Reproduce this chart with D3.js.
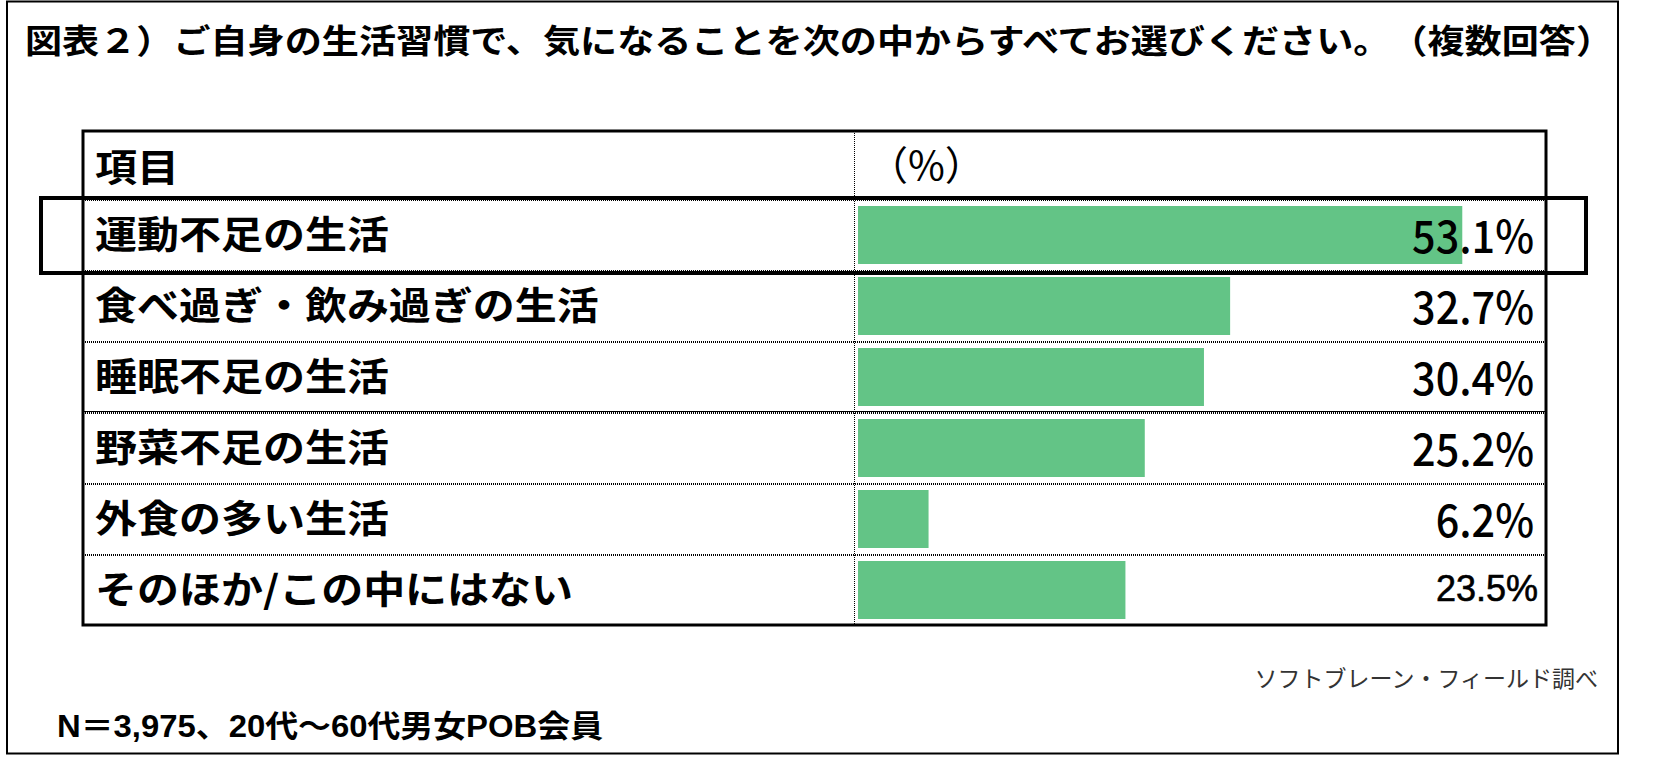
<!DOCTYPE html>
<html>
<head>
<meta charset="utf-8">
<script src="https://cdn.jsdelivr.net/npm/d3@7"></script>
<style>
html,body{margin:0;padding:0;background:#fff;}
svg{display:block;}
</style>
</head>
<body>
<svg id="chart" width="1666" height="768"></svg>
<script>
const titleText = "図表２）ご自身の生活習慣で、気になることを次の中からすべてお選びください。　（複数回答）";
const headerItem = "項目";
const headerUnit = "（%）";
const categories = ["運動不足の生活", "食べ過ぎ・飲み過ぎの生活", "睡眠不足の生活", "野菜不足の生活", "外食の多い生活", "そのほか/この中にはない"];
const values = [53.1, 32.7, 30.4, 25.2, 6.2, 23.5];
const valueLabels = ["53.1%", "32.7%", "30.4%", "25.2%", "6.2%", "23.5%"];
const sourceText = "ソフトブレーン・フィールド調べ";
const noteText = "N＝3,975、20代～60代男女POB会員";

const svg = d3.select("#chart");
const JP = "'Noto Sans CJK JP', 'Noto Sans', sans-serif";

// outer frame
svg.append("rect").attr("x", 7).attr("y", 1.5).attr("width", 1611).attr("height", 752)
  .attr("fill", "none").attr("stroke", "#000").attr("stroke-width", 2);

// title
svg.append("text")
  .attr("transform", "translate(25,38) scale(1,0.9)")
  .attr("dominant-baseline", "central")
  .attr("font-family", JP).attr("font-weight", 700).attr("font-size", 37)
  .attr("textLength", 1588).attr("lengthAdjust", "spacingAndGlyphs")
  .text(titleText);

// layout
const tableLeft = 83, tableRight = 1546, tableTop = 131, headerBottom = 199, tableBottom = 625;
const colX = 854;

const y = d3.scaleBand().domain(categories).range([headerBottom, tableBottom]).paddingInner(0).paddingOuter(0);
const x = d3.scaleLinear().domain([0, 100]).range([858, 858 + 1138]);

// row dividers (dotted)
const dividers = categories.map(c => y(c));
svg.append("g").selectAll("line").data(dividers).join("line")
  .attr("x1", tableLeft).attr("x2", tableRight)
  .attr("y1", d => d + 1).attr("y2", d => d + 1)
  .attr("stroke", "#000").attr("stroke-width", 2).attr("stroke-dasharray", "1,1");
// solid line between 3rd and 4th rows
svg.append("line").attr("x1", tableLeft).attr("x2", tableRight)
  .attr("y1", y(categories[3]) - 0.5).attr("y2", y(categories[3]) - 0.5)
  .attr("stroke", "#000").attr("stroke-width", 1.2);

// column divider (dotted)
svg.append("line").attr("x1", colX + 0.5).attr("x2", colX + 0.5)
  .attr("y1", tableTop).attr("y2", tableBottom)
  .attr("stroke", "#000").attr("stroke-width", 1).attr("stroke-dasharray", "1,1");

// bars
svg.append("g").selectAll("rect").data(categories).join("rect")
  .attr("x", x(0))
  .attr("y", c => y(c) + 7)
  .attr("width", (c, i) => x(values[i]) - x(0))
  .attr("height", y.bandwidth() - 13)
  .attr("fill", "#63c486");

// category labels
svg.append("g").selectAll("text").data(categories).join("text")
  .attr("transform", c => `translate(95,${y(c) + y.bandwidth() / 2 - 3}) scale(1,0.9)`)
  .attr("dominant-baseline", "central")
  .attr("font-family", JP).attr("font-weight", 700).attr("font-size", 42)
  .attr("fill", "#000")
  .text(c => c);

// value labels
const last = categories.length - 1;
svg.append("g").selectAll("text").data(categories).join("text")
  .attr("transform", (c, i) => i === last
      ? `translate(1538,${y(c) + y.bandwidth() / 2 - 1})`
      : `translate(1534,${y(c) + y.bandwidth() / 2 - 1}) scale(0.92,1)`)
  .attr("text-anchor", "end")
  .attr("dominant-baseline", "central")
  .attr("font-family", (c, i) => i === last ? "'Liberation Sans', Arial, sans-serif" : JP)
  .attr("font-weight", (c, i) => i === last ? 400 : 500)
  .attr("font-size", (c, i) => i === last ? 36 : 45)
  .attr("stroke", (c, i) => i === last ? "#000" : "none")
  .attr("stroke-width", 0.6)
  .attr("fill", "#000")
  .text((c, i) => valueLabels[i]);

// header texts
svg.append("text")
  .attr("transform", "translate(95,165) scale(1,0.9)")
  .attr("dominant-baseline", "central")
  .attr("font-family", JP).attr("font-weight", 700).attr("font-size", 42)
  .text(headerItem);
svg.append("text").attr("x", 868).attr("y", 163)
  .attr("dominant-baseline", "central")
  .attr("font-family", JP).attr("font-weight", 400).attr("font-size", 40)
  .text(headerUnit);

// table border
svg.append("rect").attr("x", tableLeft).attr("y", tableTop)
  .attr("width", tableRight - tableLeft).attr("height", tableBottom - tableTop)
  .attr("fill", "none").attr("stroke", "#000").attr("stroke-width", 3);

// highlight box around the top row
svg.append("rect").attr("x", 41).attr("y", y(categories[0]) - 1)
  .attr("width", 1545).attr("height", y.bandwidth() + 4)
  .attr("fill", "none").attr("stroke", "#000").attr("stroke-width", 4);

// source
svg.append("text").attr("x", 1598).attr("y", 677)
  .attr("text-anchor", "end").attr("dominant-baseline", "central")
  .attr("font-family", JP).attr("font-weight", 400).attr("font-size", 23)
  .attr("fill", "#333")
  .text(sourceText);

// note
svg.append("text").attr("x", 57).attr("y", 726)
  .attr("dominant-baseline", "central")
  .attr("font-family", "'Liberation Sans', 'Noto Sans CJK JP', sans-serif")
  .attr("font-weight", 700).attr("font-size", 31)
  .attr("textLength", 546).attr("lengthAdjust", "spacingAndGlyphs")
  .text(noteText);
</script>
</body>
</html>
